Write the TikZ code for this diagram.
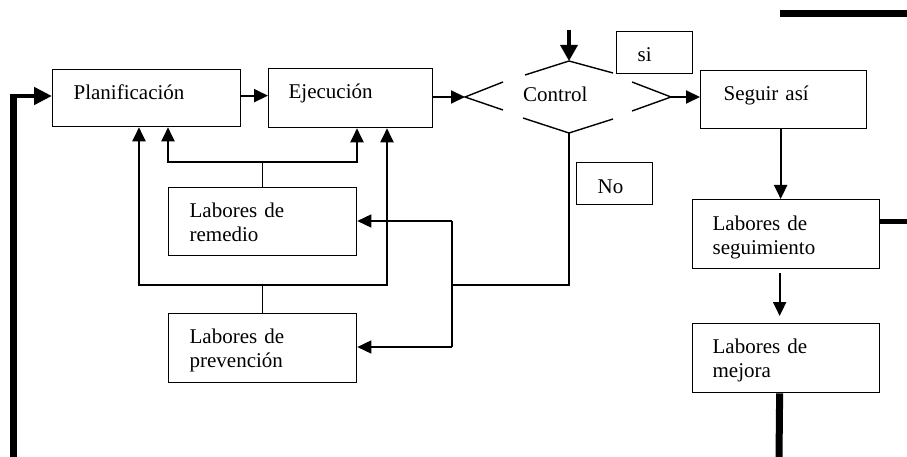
\documentclass[tikz,border=0pt]{standalone}
\usepackage{fontspec}
\setmainfont{Liberation Serif}
\usetikzlibrary{arrows.meta}
\begin{document}
\begin{tikzpicture}[x=1pt,y=-1pt,
  box/.style={draw, line width=1.3pt, anchor=north west, align=left, inner xsep=21pt, inner ysep=0pt, text height=30pt, font=\fontsize{21}{24}\selectfont},
  arr/.style={line width=2pt, -{Triangle[length=14pt,width=13pt]}},
  link/.style={line width=2pt},
  slim/.style={line width=1.4pt}]
\useasboundingbox (0,0) rectangle (907,457);

% boxes
\node[box, text width=146pt, text depth=27pt] (plan) at (52,69) {Planificación};
\node[box, text width=124pt, text depth=29pt, inner xsep=20pt] (ejec) at (268,68) {Ejecución};
\node[box, text width=120pt, text depth=28pt, inner xsep=23pt] (seg) at (700,70) {Seguir así};
\node[box, text width=34pt, text depth=12pt] (si) at (616,31) {si};
\node[box, text width=34pt, text depth=11pt, text height=31pt] (no) at (576,162) {No};
\node[box, text width=146pt, text depth=38pt] (rem) at (168,187) {Labores de\\remedio};
\node[box, text width=146pt, text depth=39pt] (prev) at (168,313) {Labores de\\prevención};
\node[box, text width=147pt, text depth=38pt, inner xsep=20pt, text height=31pt] (segm) at (692,199) {Labores de\\seguimiento};
\node[box, text width=147pt, text depth=39pt, inner xsep=20pt] (mej) at (692,323) {Labores de\\mejora};
\node[anchor=base west, inner sep=0pt, font=\fontsize{21}{24}\selectfont] (ctrl) at (523,102) {Control};

% control shape (broken diamond)
\coordinate (cl) at (465,97);
\coordinate (cr) at (671,97);
\coordinate (ct) at (569,61);
\coordinate (cb) at (569,133);
\draw[slim] (503,82) -- (cl) -- (503,110);
\draw[slim] (525,75) -- (ct) -- (613,73);
\draw[slim] (632,82) -- (cr) -- (632,111);
\draw[slim] (523,118) -- (cb) -- (613,119);
\coordinate (ctop) at (569,30);
\draw[line width=3.5pt, -{Triangle[length=16pt,width=17pt]}] (ctop) -- (ct);

% main flow
\draw[arr] ([yshift=2.5pt]plan.east) -- ([yshift=2.5pt]ejec.west);
\draw[arr] (ejec.east |- cl) -- (cl);
\draw[arr] (cr) -- (cr -| seg.west);
\draw[arr] ([xshift=-3pt]seg.south) -- ([xshift=-3pt]seg.south |- segm.north);
\draw[arr, shorten <=4pt, shorten >=7pt] ([xshift=-6.5pt]segm.south) -- ([xshift=-6.5pt]mej.north);

% heavy bars
\coordinate (mb) at (779,457);
\draw[line width=7pt] ([xshift=-6.5pt]mej.south) -- (mb);
\coordinate (sr) at (907,221);
\draw[line width=5pt] (segm.east |- sr) -- (sr);
\coordinate (tb1) at (780,14);
\coordinate (tb2) at (907,14);
\draw[line width=7pt] (tb1) -- (tb2);
\coordinate (lb) at (13.5,457);
\coordinate (lt) at (13.5,94);
\draw[line width=6.5pt] (lb) -- (lt);
\coordinate (lf) at (10.5,96);
\draw[line width=4.5pt, -{Triangle[length=18pt,width=17pt]}] (lf) -- (lf -| plan.west);

% inner loop (remedio)
\coordinate (j1) at (168,162);
\coordinate (j2) at (357,162);
\draw[arr] (j2) -- (j1) -- (j1 |- plan.south);
\draw[arr] (j1) -- (j2) -- (j2 |- ejec.south);
\draw[slim] (rem.north) -- (rem.north |- j1);

% outer loop (prevencion)
\coordinate (k1) at (139,285);
\coordinate (k2) at (387,285);
\draw[arr] (k2) -- (k1) -- (k1 |- plan.south);
\draw[arr] (k1) -- (k2) -- (k2 |- ejec.south);
\draw[slim] (prev.north) -- (prev.north |- k1);

% "No" branch
\coordinate (nv) at (452,285);
\coordinate (nt) at (452,221);
\coordinate (nbm) at (452,347);
\draw[slim] (cb) -- (cb |- nv) -- (nv);
\draw[slim] (nt) -- (nbm);
\draw[arr, line width=1.5pt] (nt) -- (nt -| rem.east);
\draw[arr, line width=1.5pt] (nbm) -- (nbm -| prev.east);
\end{tikzpicture}
\end{document}
